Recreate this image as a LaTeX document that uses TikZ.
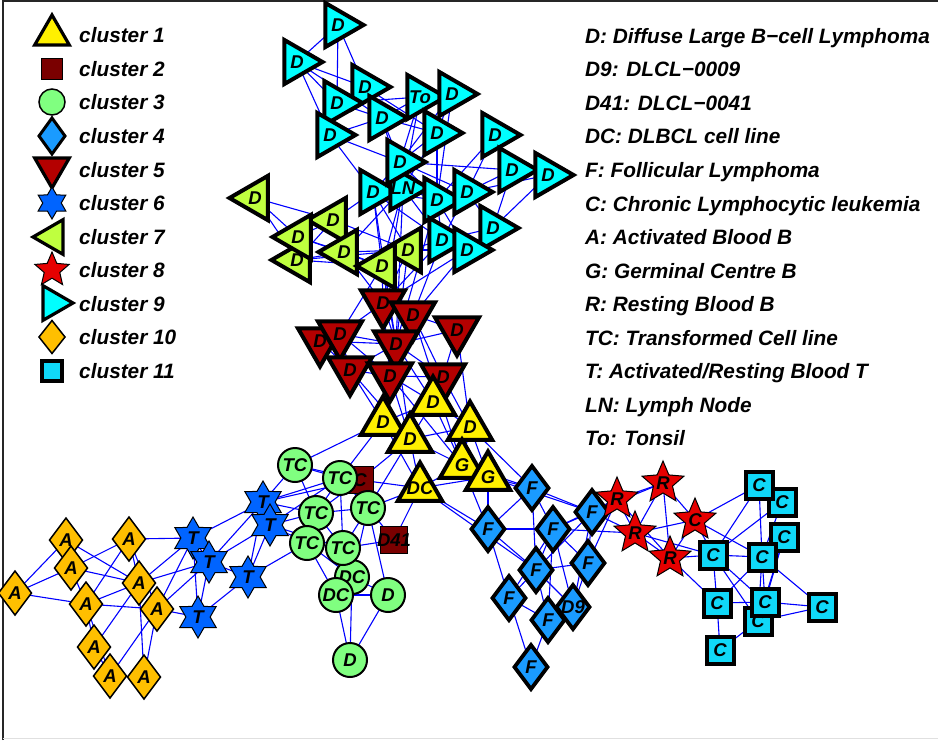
\documentclass[tikz,border=0pt]{standalone}
\usepackage{fontspec}
\setmainfont{Liberation Sans}
\usetikzlibrary{shapes.geometric,backgrounds}

\definecolor{clA}{HTML}{FFF000}
\definecolor{clB}{HTML}{7A0000}
\definecolor{clC}{HTML}{80FF80}
\definecolor{clD}{HTML}{1A9BFF}
\definecolor{clE}{HTML}{B40000}
\definecolor{clF}{HTML}{0064FF}
\definecolor{clG}{HTML}{BFFF3F}
\definecolor{clH}{HTML}{E60000}
\definecolor{clI}{HTML}{00FFFF}
\definecolor{clJ}{HTML}{FFBF00}
\definecolor{clK}{HTML}{10D8F8}
\definecolor{edgeblue}{HTML}{0000FF}

\newcommand\nodefont{\fontsize{18.5}{18.5}\selectfont\bfseries\itshape}
\newcommand\legfont{\fontsize{20.8}{21}\selectfont\bfseries\itshape}

\tikzset{
  base/.style={inner sep=0pt, outer sep=0pt, draw=black},
  lab/.style={font=\nodefont, inner sep=0pt},
  tri/.style={base, regular polygon, regular polygon sides=3, minimum size=51pt, line width=4pt, line join=miter},
  kA/.style={tri, fill=clA},
  kE/.style={tri, fill=clE, shape border rotate=180},
  kG/.style={tri, fill=clG, shape border rotate=90},
  kI/.style={tri, fill=clI, shape border rotate=-90},
  kB/.style={base, rectangle, minimum size=27pt, line width=1.5pt, fill=clB},
  kC/.style={base, circle, minimum size=34pt, line width=2pt, fill=clC},
  kD/.style={base, diamond, minimum width=33pt, minimum height=44pt, line width=3.8pt, fill=clD},
  kF/.style={base, star, star points=6, star point ratio=1.73, minimum size=42pt, line width=1pt, fill=clF},
  kH/.style={base, star, star points=5, star point ratio=2.2, minimum size=44pt, line width=1pt, fill=clH},
  kJ/.style={base, diamond, minimum width=33pt, minimum height=44pt, line width=1.5pt, fill=clJ},
  kK/.style={base, rectangle, minimum size=27pt, line width=4pt, fill=clK},
  edge/.style={draw=edgeblue, line width=1.1pt},
  legtxt/.style={font=\legfont, inner sep=0pt, anchor=base west},
}

\begin{document}
\begin{tikzpicture}[x=1pt, y=-1pt]
\useasboundingbox (0,0) rectangle (938,740);
\draw[black!85, line width=1.5pt] (3,740) -- (3,1) -- (938,1);
\draw[black!12, line width=1.5pt] (3,738.5) -- (938,738.5);

% ---------- cluster 9 (cyan, pointing right)
\node[kI, label={[lab]center:D}] (n1) at (338,25) {};
\node[kI, label={[lab]center:D}] (n2) at (297,62) {};
\node[kI, label={[lab]center:D}] (n3) at (365,87) {};
\node[kI, label={[lab]center:D}] (n4) at (337,103) {};
\node[kI, label={[lab]center:To}] (n5) at (420,97) {};
\node[kI, label={[lab]center:D}] (n6) at (452,94) {};
\node[kI, label={[lab]center:D}] (n7) at (382,118) {};
\node[kI, label={[lab]center:D}] (n8) at (330,135) {};
\node[kI, label={[lab]center:D}] (n9) at (437,133) {};
\node[kI, label={[lab]center:D}] (n10) at (495,135) {};
\node[kI, label={[lab]center:D}] (n12) at (512,170) {};
\node[kI, label={[lab]center:D}] (n13) at (548,175) {};
\node[kI, label={[lab]center:D}] (n14) at (373,192) {};
\node[kI, label={[lab]center:LN}] (n15) at (403,188) {};
\node[kI, label={[lab]center:D}] (n11) at (400,162) {};
\node[kI, label={[lab]center:D}] (n16) at (437,200) {};
\node[kI, label={[lab]center:D}] (n17) at (467,192) {};
\node[kI, label={[lab]center:D}] (n18) at (493,228) {};
\node[kI, label={[lab]center:D}] (n19) at (442,240) {};
\node[kI, label={[lab]center:D}] (n20) at (467,250) {};

% ---------- cluster 7 (green-yellow, pointing left)
\node[kG, label={[lab]center:D}] (g1) at (255,198) {};
\node[kG, label={[lab]center:D}] (g2) at (333,220) {};
\node[kG, label={[lab]center:D}] (g4) at (297,260) {};
\node[kG, label={[lab]center:D}] (g3) at (298,237) {};
\node[kG, label={[lab]center:D}] (g5) at (344,252) {};
\node[kG, label={[lab]center:D}] (g7) at (408,250) {};
\node[kG, label={[lab]center:D}] (g6) at (382,266) {};

% ---------- cluster 5 (dark red, pointing down)
\node[kE, label={[lab]center:D}] (r1) at (383,303) {};
\node[kE, label={[lab]center:D}] (r2) at (413,315) {};
\node[kE, label={[lab]center:D}] (r3) at (457,330) {};
\node[kE, label={[lab]center:D}] (r5) at (320,341) {};
\node[kE, label={[lab]center:D}] (r4) at (340,334) {};
\node[kE, label={[lab]center:D}] (r6) at (396,344) {};
\node[kE, label={[lab]center:D}] (r7) at (350,370) {};
\node[kE, label={[lab]center:D}] (r8) at (390,376) {};
\node[kE, label={[lab]center:D}] (r9) at (443,377) {};

% ---------- cluster 1 (yellow, pointing up)
\node[kA, label={[lab]center:D}] (y1) at (433,402) {};
\node[kA, label={[lab]center:D}] (y2) at (383,422) {};
\node[kA, label={[lab]center:D}] (y3) at (470,427) {};
\node[kA, label={[lab]center:D}] (y4) at (410,439) {};
\node[kA, label={[lab]center:G}] (y5) at (462,465) {};
\node[kA, label={[lab]center:G}] (y6) at (488,477) {};
\node[kA, label={[lab]center:DC}] (y7) at (420,488) {};

% ---------- cluster 2 (maroon squares)
\node[kB, label={[lab]center:C}] (m1) at (360,480) {};
\node[kB, label={[lab]center:D41}] (m2) at (394,540) {};

% ---------- cluster 3 (green circles)
\node[kC, label={[lab]center:TC}] (c1) at (295,465) {};
\node[kC, label={[lab]center:TC}] (c2) at (340,478) {};
\node[kC, label={[lab]center:TC}] (c3) at (368,508) {};
\node[kC, label={[lab]center:TC}] (c4) at (316,513) {};
\node[kC, label={[lab]center:TC}] (c5) at (307,543) {};
\node[kC, label={[lab]center:DC}] (c7) at (352,577) {};
\node[kC, label={[lab]center:TC}] (c6) at (343,548) {};
\node[kC, label={[lab]center:DC}] (c8) at (336,595) {};
\node[kC, label={[lab]center:D}] (c9) at (388,595) {};
\node[kC, label={[lab]center:D}] (c10) at (350,660) {};

% ---------- cluster 6 (blue six-pointed stars)
\node[kF, label={[lab]center:T}] (t1) at (263,502) {};
\node[kF, label={[lab]center:T}] (t3) at (270,525) {};
\node[kF, label={[lab]center:T}] (t2) at (193,538) {};
\node[kF, label={[lab]center:T}] (t4) at (209,562) {};
\node[kF, label={[lab]center:T}] (t5) at (248,577) {};
\node[kF, label={[lab]center:T}] (t6) at (198,617) {};

% ---------- cluster 10 (orange diamonds)
\node[kJ, label={[lab]center:A}] (a1) at (66,540) {};
\node[kJ, label={[lab]center:A}] (a2) at (129,539) {};
\node[kJ, label={[lab]center:A}] (a3) at (71,568) {};
\node[kJ, label={[lab]center:A}] (a4) at (15,593) {};
\node[kJ, label={[lab]center:A}] (a5) at (139,583) {};
\node[kJ, label={[lab]center:A}] (a6) at (86,604) {};
\node[kJ, label={[lab]center:A}] (a7) at (157,609) {};
\node[kJ, label={[lab]center:A}] (a8) at (94,647) {};
\node[kJ, label={[lab]center:A}] (a9) at (110,676) {};
\node[kJ, label={[lab]center:A}] (a10) at (144,677) {};

% ---------- cluster 4 (blue diamonds)
\node[kD, label={[lab]center:F}] (f1) at (532,488) {};
\node[kD, label={[lab]center:F}] (f2) at (592,512) {};
\node[kD, label={[lab]center:F}] (f3) at (488,529) {};
\node[kD, label={[lab]center:F}] (f4) at (553,529) {};
\node[kD, label={[lab]center:F}] (f5) at (588,563) {};
\node[kD, label={[lab]center:F}] (f6) at (536,570) {};
\node[kD, label={[lab]center:F}] (f7) at (509,598) {};
\node[kD, label={[lab]center:D9}] (f8) at (573,607) {};
\node[kD, label={[lab]center:F}] (f9) at (548,620) {};
\node[kD, label={[lab]center:F}] (f10) at (531,667) {};

% ---------- cluster 8 (red stars)
\node[kH, label={[lab]center:R}] (s1) at (617,499) {};
\node[kH, label={[lab]center:R}] (s2) at (663,483) {};
\node[kH, label={[lab]center:C}] (s3) at (695,520) {};
\node[kH, label={[lab]center:R}] (s4) at (635,533) {};
\node[kH, label={[lab]center:R}] (s5) at (670,558) {};

% ---------- cluster 11 (cyan squares)
\node[kK, label={[lab]center:C}] (q2) at (782,502) {};
\node[kK, label={[lab]center:C}] (q1) at (759,485) {};
\node[kK, label={[lab]center:C}] (q3) at (784,537) {};
\node[kK, label={[lab]center:C}] (q4) at (713,555) {};
\node[kK, label={[lab]center:C}] (q5) at (762,557) {};
\node[kK, label={[lab]center:C}] (q6) at (717,603) {};
\node[kK, label={[lab]center:C}] (q7) at (758,621) {};
\node[kK, label={[lab]center:C}] (q8) at (765,602) {};
\node[kK, label={[lab]center:C}] (q9) at (822,607) {};
\node[kK, label={[lab]center:C}] (q10) at (720,650) {};

% ---------- connectors
\begin{pgfonlayer}{background}
\foreach \a/\b in {n1/n2, n1/n3, n1/n4, n2/n3, n2/n4, n2/n8, n2/n7, n3/n7, n3/n4, n4/n7,
  n4/n8, n4/n5, n3/n9, n7/n8, n7/n9, n8/n11, n8/n14, n5/n6, n5/n7, n5/n11, n5/n15,
  n6/n11, n6/n9, n9/n11, n9/n16, n9/n15, n7/n11, n7/n15, n11/n15, n11/n16, n11/n17,
  n11/n12, n10/n17, n10/n16, n10/n12, n12/n13, n12/n17, n13/n17, n13/n18, n12/n18,
  n14/n15, n14/n19, n14/n16, n15/n16, n15/n19, n16/n17, n16/n19, n16/n20, n17/n18,
  n17/n19, n18/n20, n18/n19, n19/n20, n11/n14, n6/n16,
  g1/g2, g1/g3, g1/g4, g2/g3, g2/g4, g2/g5, g2/n14, g3/g4, g3/g5, g4/g5, g4/g6, g3/g6,
  g5/g6, g5/g7, g6/g7, g7/n14, g7/n16, g7/n19, g2/g7, g5/n15, g6/n15, g7/n20, g6/n14, g4/g7,
  g6/r1, g6/r6, g7/r1, g7/r6, n15/r1, n16/r6, n19/r2, n20/r2, g5/r1, n14/r6, g6/r4,
  n19/r1, n20/r1, n15/r6,
  r1/r2, r1/r4, r1/r6, r2/r3, r2/r6, r3/r6, r4/r5, r4/r6, r4/r7, r5/r6, r5/r7, r6/r7,
  r6/r8, r7/r8, r8/r9, r6/r9, r2/r9, r3/r9, r4/r8, r1/r8,
  r7/y2, r8/y4, r6/y1, r8/y1, r9/y3, r3/y3, r2/y5, r8/y5, r6/y4, r7/y4,
  y1/y2, y1/y4, y1/y3, y2/y4, y3/y4, y4/y5, y4/y7, y5/y1, y5/y3, y5/y6, y5/y7, y6/y7,
  y3/y6, y2/y7,
  y2/c2, y4/m1, y4/c3, y7/m1, y7/m2, y2/c1, y7/c3, y6/f1, y6/f3, y5/f3, y7/f3, y6/f2,
  y5/f1, y3/f1, y7/f6,
  c1/c2, c1/c4, c2/c3, c2/c4, c2/c6, c4/c3, c4/c6, c4/c5, c5/c6, c3/c6, c5/c7, c5/c8,
  c3/c7, c3/c9, c6/c7, c7/c8, c7/c9, c8/c9, c8/c10, c7/c10, c9/c10, c3/m2, c2/m1, c1/m1,
  m1/c3, m1/c4, c6/m2,
  t1/c1, t1/c2, t1/c4, t3/c2, t3/c4, t3/c5, t5/c5, t1/m1, t3/c6,
  t2/t1, t2/t4, t2/t6, t4/t1, t4/t3, t4/t5, t4/t6, t6/t5, t5/t1, t5/t3, t1/t3,
  a2/t2, a5/t2, a5/t4, a7/t2, a7/t4, a7/t6,
  a4/a1, a4/a3, a4/a6, a1/a5, a1/a3, a3/a2, a3/a5, a3/a6, a2/a6, a2/a5, a2/a7, a5/a6,
  a6/a7, a5/a8, a7/a9, a7/a10, a5/a10, a6/a8, a8/a9, a9/a10, a6/a9,
  f1/f3, f1/f4, f1/f2, f1/f6, f3/f4, f3/f6, f3/f7, f4/f2, f4/f5, f4/f6, f4/f7, f4/f8,
  f4/f9, f2/f5, f2/f6, f5/f6, f5/f8, f6/f8, f6/f9, f7/f9, f7/f10, f9/f10, f6/f7, f2/f8,
  f2/s1, f4/s4, f2/s2, f5/s1, f2/s4, f4/s1,
  s1/s2, s1/s4, s1/s5, s2/s4, s2/s3, s2/s5, s4/s3, s4/s5, s3/s5,
  s4/q4, s3/q5, s3/q4, s5/q4, s5/q6, s3/q1,
  q1/q4, q1/q5, q2/q5, q2/q4, q3/q5, q3/q8, q4/q5, q4/q6, q4/q7, q4/q8, q5/q6, q5/q8,
  q5/q9, q5/q7, q6/q8, q6/q10, q7/q10, q8/q9, q7/q9, q1/q2, q3/q7}
  \draw[edge] (\a) -- (\b);
\end{pgfonlayer}

% ---------- cluster key
\node[tri, fill=clA, minimum size=40pt, line width=3.2pt] (k1) at (52,35) {};
\node[base, rectangle, fill=clB, minimum size=21pt, line width=1.5pt] (k2) at (52,69) {};
\node[base, circle, fill=clC, minimum size=26pt, line width=1.5pt] (k3) at (52,102) {};
\node[base, diamond, fill=clD, minimum width=26pt, minimum height=36pt, line width=3pt] (k4) at (52,136) {};
\node[tri, fill=clE, shape border rotate=180, minimum size=40pt, line width=3.2pt] (k5) at (52,168) {};
\node[base, star, star points=6, star point ratio=1.73, fill=clF, minimum size=32pt, line width=1pt] (k6) at (52,203) {};
\node[tri, fill=clG, shape border rotate=90, minimum size=40pt, line width=3.2pt] (k7) at (53,237) {};
\node[base, star, star points=5, star point ratio=2.2, fill=clH, minimum size=36pt, line width=1pt] (k8) at (52,270) {};
\node[tri, fill=clI, shape border rotate=-90, minimum size=40pt, line width=3.2pt] (k9) at (53,303) {};
\node[base, diamond, fill=clJ, minimum width=26pt, minimum height=33pt, line width=1.5pt] (k10) at (52,337) {};
\node[base, rectangle, fill=clK, minimum size=20pt, line width=3.5pt] (k11) at (52,371) {};

\foreach \i/\t in {1/cluster 1, 2/cluster 2, 3/cluster 3, 4/cluster 4, 5/cluster 5,
  6/cluster 6, 7/cluster 7, 8/cluster 8, 9/cluster 9, 10/cluster 10, 11/cluster 11}
  \node[legtxt] (kt\i) at (79, {42.8+33.55*(\i-1)}) {\t};

% ---------- label key
\foreach \i/\t in {1/{D: Diffuse Large B−cell Lymphoma}, 2/{D9: DLCL−0009}, 3/{D41: DLCL−0041},
  4/{DC: DLBCL cell line}, 5/{F: Follicular Lymphoma}, 6/{C: Chronic Lymphocytic leukemia},
  7/{A: Activated Blood B}, 8/{G: Germinal Centre B}, 9/{R: Resting Blood B},
  10/{TC: Transformed Cell line}, 11/{T: Activated/Resting Blood T}, 12/{LN: Lymph Node},
  13/{To: Tonsil}}
  \node[legtxt] (lt\i) at (585, {43.3+33.55*(\i-1)}) {\t};
\end{tikzpicture}
\end{document}
